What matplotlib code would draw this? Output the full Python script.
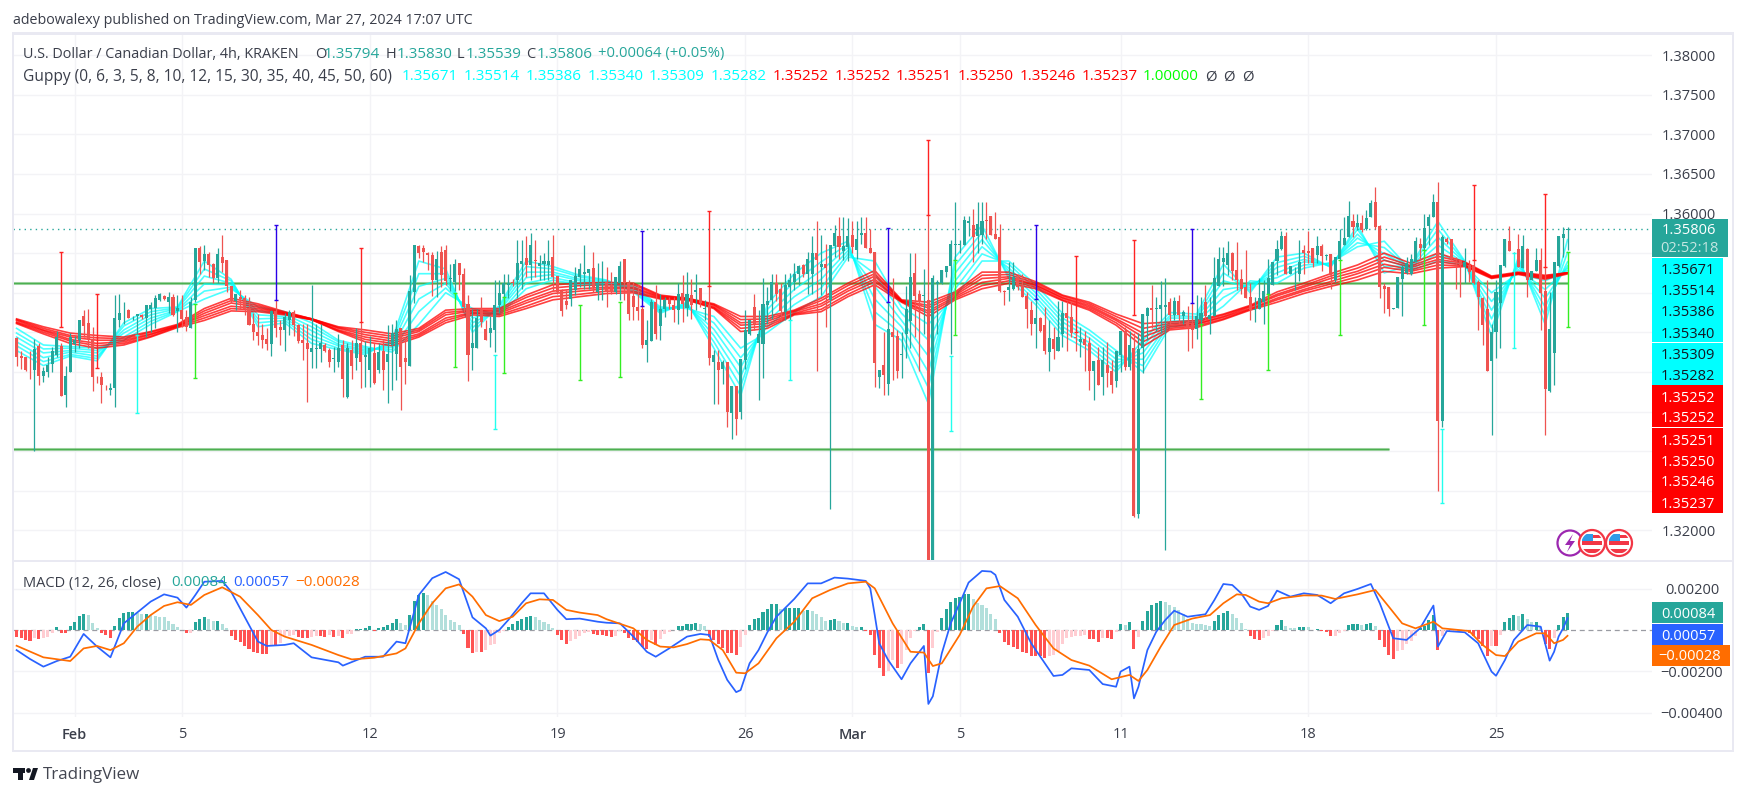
import numpy as np
import matplotlib
matplotlib.use("Agg")
import matplotlib.pyplot as plt
from matplotlib.patches import Rectangle, Circle, Polygon

W, H = 1747, 796
plt.rcParams['font.family'] = ['Open Sans', 'DejaVu Sans']

# Prices are stored in pips above 1.34000
opens = [43,20,19,3,2,33,-5,0,10,21, 33,-29,0,35,40,70,62,42,-6,-7, -16,-23,-20,65,74,78,70,70,72,68, 80,81,91,96,88,94,77,78,69,56,
 91,157,140,149,136,118,145,141,109,89, 94,93,81,60,50,46,41,35,77,57, 53,66,76,59,40,37,25,29,29,34, 28,16,12,34,-32,28,17,37,19,2,
 24,2,27,12,34,22,55,18,8,101, 159,157,150,147,116,151,154,117,114,138, 123,86,30,30,78,54,49,53,84,99, 110,113,116,136,144,135,141,134,136,135,
 145,121,102,89,92,103,120,123,125,131, 101,110,114,110,101,112,142,112,96,82, 79,34,39,88,58,80,91,84,78,100, 81,97,101,106,80,84,13,13,4,13,
 -52,-18,-50,15,48,82,37,35,84,91, 112,105,76,107,113,123,135,123,124,150, 132,136,91,159,171,153,158,173,154,173, 175,157,151,-6,9,-15,51,45,21,48,
 64,125,98,96,91,-240,111,112,126,134, 160,160,160,188,186,171,173,192,197,174, 170,102,103,105,120,108,96,78,61,68, 59,25,41,27,48,74,69,44,38,41,
 36,1,15,-6,9,1,-11,21,52,6, 30,-180,30,70,81,80,79,82,88,72, 89,70,63,62,54,65,88,67,70,109, 139,135,150,129,117,107,94,78,80,88,
 99,110,140,155,171,124,132,124,154,153, 156,147,159,146,149,116,143,160,170,191, 183,188,180,196,214,184,108,107,80,81, 117,125,123,139,162,156,184,196,215,-62,
 168,168,143,141,132,135,135,114,93,80, 14,50,87,134,165,151,155,131,155,116, 128,141,102,-24,24,134,169,179.4]
highs = [44,26,19,27,42,37,6,19,32,52, 36,8,49,45,66,78,80,57,-5,0, -16,-14,97,99,88,79,71,73,73,84, 88,97,100,97,101,99,97,97,78,95,
 156,159,160,151,138,156,173,141,109,98, 103,97,95,74,73,60,55,78,91,65, 74,78,78,61,60,61,110,61,61,36, 30,32,48,40,36,40,56,63,39,45,
 36,36,40,59,60,65,55,44,122,160, 160,160,152,152,153,159,160,136,142,138, 131,97,80,80,94,65,70,116,116,123, 124,117,166,166,171,175,167,148,150,167,
 173,121,105,103,116,133,137,160,130,152, 137,140,133,126,120,140,143,116,114,110, 84,65,92,110,99,95,95,95,112,122, 126,117,123,106,91,109,28,28,15,13,
 -18,-18,16,78,66,98,78,119,107,124, 124,112,123,125,137,135,136,152,171,190, 173,161,160,185,195,195,194,190,190,195, 195,180,151,3,51,88,118,53,51,109,
 150,150,103,130,198,122,116,129,134,166, 214,166,197,197,206,215,214,214,197,202, 187,103,139,139,124,124,101,90,93,69, 82,65,57,90,90,90,90,51,57,52,
 44,14,32,32,38,15,27,52,57,52, 49,49,73,82,110,95,115,119,93,95, 97,78,83,87,97,94,110,95,145,158, 158,165,152,164,130,154,112,95,118,116,
 143,139,166,178,177,134,133,167,160,178, 156,171,161,149,149,145,180,196,216,200, 200,198,204,217,233,185,112,107,81,120, 135,145,149,170,169,200,200,225,240,173,
 170,168,145,141,157,141,141,116,95,116, 60,116,135,168,184,152,174,173,156,128, 156,157,132,101,139,172,183,183]
lows = [8,4,1,-9,-100,-17,-13,-7,0,19, -31,-44,0,25,30,44,30,-24,-14,-39, -23,-29,-44,57,61,68,65,46,67,44, 51,55,90,91,74,70,51,57,52,56,
 88,124,129,120,112,112,126,101,87,78, 80,72,59,40,34,30,28,20,44,34, 26,46,45,36,15,-38,5,5,12,25, 6,0,6,-32,-33,-9,2,-20,-19,-19,
 -15,-2,-23,-39,-23,-10,-48,-15,8,87, 144,139,129,96,95,107,110,102,102,103, 76,-11,2,30,57,40,32,25,74,80, 93,108,93,105,120,116,120,116,116,116,
 102,99,71,79,83,97,107,105,105,101, 91,91,82,99,99,91,91,65,65,65, 30,12,39,41,40,69,80,63,61,63, 70,67,78,82,65,9,-40,-40,-15,-70,
 -85,-80,-60,4,47,53,-36,-8,61,67, 89,65,65,65,103,110,120,99,98,1, 97,57,-173,145,143,141,140,150,142,162, 156,150,-19,-20,-29,-29,-10,-8,-8,17,
 30,44,1,48,-250,-250,48,111,120,22, 141,150,160,172,139,150,162,168,173,168, 101,84,90,103,103,94,55,46,30,51, 22,1,16,27,32,27,44,27,19,1,
 -23,-35,-17,-29,-19,-27,-19,0,2,2, -183,-185,-2,40,55,52,49,-225,61,65, 61,61,27,30,42,61,67,48,70,109, 109,122,116,103,99,93,65,63,80,61,
 99,110,122,154,124,124,103,115,124,137, 133,137,127,141,105,114,141,160,170,170, 179,177,179,196,181,93,74,71,80,81, 71,123,122,139,141,154,160,196,-150,-70,
 162,141,105,95,112,114,111,53,34,1, -80,17,30,132,153,150,132,131,94,116, 128,53,-80,-25,-16,133,145,153.9]
closes = [19,17,2,2,29,-5,1,9,26,44, -31,-5,44,40,66,58,42,-6,-7,-17, -17,-20,68,75,75,68,71,73,69,84, 84,93,98,92,94,72,81,67,57,88,
 156,139,149,135,119,149,137,108,89,98, 92,79,59,50,45,40,35,77,56,53, 69,76,59,39,37,29,30,30,37,27, 12,18,30,-9,30,8,37,13,21,30,
 -14,25,3,23,49,54,6,13,102,160, 150,152,148,116,143,122,115,119,136,122, 82,21,36,68,63,40,55,85,100,112, 112,112,137,140,135,160,140,137,140,140,
 120,101,77,84,116,121,130,126,130,107, 112,111,101,101,120,134,112,73,82,77, 34,40,88,48,80,91,86,78,98,86, 98,84,103,87,81,17,21,3,13,-50,
 -18,-60,16,53,65,60,48,86,89,113, 99,77,110,116,124,134,123,142,150,141, 136,131,160,175,158,159,171,158,168,175, 156,150,11,2,-4,54,44,1,22,80,
 120,96,88,97,-240,119,113,129,134,161, 161,161,192,190,170,187,190,190,173,168, 102,101,107,120,107,95,79,60,68,52, 27,43,29,44,74,68,49,43,41,34,
 1,14,-17,15,-2,-16,27,52,6,34, -182,29,73,81,78,81,85,85,72,89, 72,76,55,53,70,75,70,72,119,142, 144,150,128,116,105,93,78,79,93,102,
 118,139,155,171,124,134,133,139,150,150, 137,159,146,147,122,145,165,169,197,183, 188,179,194,213,183,107,105,79,81,120, 133,137,142,165,157,182,196,214,-62,170,
 164,143,141,135,139,126,112,95,59,1, 50,101,135,168,153,152,132,159,116,128, 141,100,-22,54,139,172,174,180.6]

# Anomalous thin high-low bars seen on the chart: candle number, top, bottom (pips above 1.34000)
red_spike_i = [10,18,77,155,204,237,250,326,342]
red_spike_top = [151,99,157,203,293,146,166,236,225]
red_spike_bot = [57,5,63,109,198,51,72,141,132]
blue_spike_i = [58,140,195,228,263]
blue_spike_top = [185,178,182,186,181]
blue_spike_bot = [91,83,88,92,87]
lime_spike_i = [40,98,109,126,135,210,265,280,296,315,347]
lime_spike_top = [86,100,94,85,88,141,61,98,141,154,152]
lime_spike_bot = [-8,6,-1,-10,-6,47,-34,3,46,59,57]
cyan_spike_i = [27,107,173,209,319,335]
cyan_spike_top = [46,21,65,20,-72,150]
cyan_spike_bot = [-52,-72,-10,-75,-165,30]

# Guppy ribbon values, read every six candles
guppy_i = list(range(0, 348, 6)) + [347]
cyan_1 = [27,8,20,14,62,80,82,140,117,57,62,36,28,22,40,140,130,50,84,140,133,122,116,101,74,88,30,-30,86,124,150,165,60,40,-40,145,185,118,85,46,27,0,40,75,73,136,100,145,150,132,185,125,135,190,140,45,145,60,167]
cyan_2 = [33,13,22,17,58,76,81,130,115,62,65,41,30,24,37,124,124,56,82,133,130,120,115,103,76,86,38,-18,79,114,139,161,76,48,-20,135,176,122,90,52,32,5,32,71,70,125,103,138,146,133,180,133,134,180,139,56,141,71,151]
cyan_3 = [38,18,25,20,53,72,80,121,112,67,68,46,33,26,34,108,118,62,79,126,126,117,114,105,77,85,46,-6,72,104,128,157,92,57,0,125,167,127,95,57,37,11,24,68,68,115,106,132,142,134,174,141,132,170,138,67,137,82,139]
cyan_4 = [44,24,27,24,49,68,78,111,110,72,70,52,35,28,31,92,112,68,77,119,123,115,112,106,79,83,54,6,64,95,117,153,108,65,20,115,158,131,100,63,43,16,16,64,65,104,109,125,139,136,169,149,131,160,137,78,133,93,134]
cyan_5 = [49,29,30,27,44,64,77,102,107,77,73,57,38,30,28,76,106,74,74,112,119,112,111,108,80,82,62,18,57,85,106,149,124,74,40,105,149,136,105,68,48,22,8,61,63,94,112,119,135,137,163,157,129,150,136,89,129,104,131]
cyan_6 = [55,34,32,30,40,60,76,92,105,82,76,62,40,32,25,60,100,80,72,105,116,110,110,110,82,80,70,30,50,75,95,145,140,82,60,95,140,140,110,74,53,27,0,57,60,83,115,112,131,138,158,165,128,140,135,100,125,115,128]
red_1 = [67,57,49,46,44,51,60,80,93,86,76,67,57,53,48,55,78,80,80,97,110,112,113,112,97,93,86,70,70,78,93,112,128,91,88,101,126,126,114,97,88,73,61,63,65,73,84,101,112,124,135,150,137,150,139,121,126,122,125.2]
red_2 = [66,55,46,43,42,50,59,77,90,84,75,67,56,50,45,53,75,78,78,94,106,109,110,110,96,93,85,66,67,77,90,109,124,90,84,99,122,123,112,96,86,70,55,61,63,72,83,98,109,121,131,145,134,146,138,120,125,121,125.2]
red_3 = [65,53,44,40,40,48,58,74,87,82,74,67,55,47,42,51,72,77,76,90,102,105,107,107,95,92,84,62,64,76,86,105,121,90,81,97,118,120,110,94,84,67,49,59,61,70,82,96,107,118,127,141,132,142,137,120,125,120,125.1]
red_4 = [63,52,41,36,38,47,58,71,83,80,74,66,53,44,39,48,68,75,74,87,99,102,105,105,94,92,82,59,61,74,83,102,117,89,77,95,113,118,109,93,82,65,44,57,60,69,80,93,104,114,124,136,129,139,135,119,124,119,125]
red_5 = [62,50,39,33,36,45,57,68,80,78,73,66,52,41,36,46,65,74,72,83,95,98,102,102,93,91,81,55,58,73,79,98,114,89,74,93,109,115,107,91,80,62,38,55,58,67,79,91,102,111,120,132,127,135,134,119,124,118,124.6]
red_6 = [61,48,36,30,34,44,56,65,77,76,72,66,51,38,33,44,62,72,70,80,91,95,99,100,92,91,80,51,55,72,76,95,110,88,70,91,105,112,105,90,78,59,32,53,56,66,78,88,99,108,116,127,124,131,133,118,123,117,123.7]

# MACD values in units of 0.00001
hist = [-32,-40,-48,-53,-40,-43,-40,-32,-13,16, -16,-16,19,40,69,77,72,35,10,-16, -24,-37,19,56,84,87,87,80,77,77, 72,69,64,61,45,29,13,0,-16,-13,
 39,55,61,53,43,43,29,10,-27,-48, -58,-77,-93,-105,-109,-114,-114,-76,-76,-64, -32,-29,-24,-32,-40,-40,-35,-29,-29,-35, -24,-35,-29,-37,-21,-19,3,6,10,19,
 -3,10,13,24,35,55,32,24,72,140, 169,177,169,140,119,100,72,48,39,24, -19,-85,-109,-105,-105,-97,-72,-68,-13,-5, 16,29,45,53,61,68,64,48,40,27,
 8,-24,-48,-68,-55,-45,-29,-16,-8,-21, -24,-24,-27,-35,-29,-5,-13,-37,-48,-56, -80,-92,-48,-72,-43,-19,-8,2,19,19, 29,29,34,29,19,-35,-48,-68,-89,-113,
 -113,-121,-80,-23,24,53,60,87,101,126, 126,101,105,106,106,108,93,97,92,77, 61,45,48,53,43,32,34,19,13,14, -3,-24,-121,-182,-222,-198,-145,-182,-164,-97,
 -39,-3,14,29,-206,-89,-8,58,101,135, 155,158,174,174,151,132,121,108,76,53, -13,-56,-74,-80,-92,-106,-113,-124,-124,-126, -135,-126,-121,-101,-68,-39,-32,-29,-27,-24,
 -43,-43,-56,-40,-40,-43,-8,29,23,39, -92,-34,42,90,119,130,140,134,119,113, 97,77,52,35,31,29,24,21,42,72, 84,90,76,60,32,3,-27,-45,-47,-37,
 -29,-5,23,47,19,11,8,14,14,13, 0,5,-5,-10,-29,-27,-14,-3,23,29, 29,23,27,34,19,-48,-82,-121,-140,-100, -95,-68,-53,-29,8,19,47,71,-95,-29,
 -8,-5,-3,-3,-5,-13,-27,-43,-76,-124, -77,-77,-24,37,60,72,68,76,53,39, 39,16,-69,-92,-39,23,61,84]
macd_i = [0,3,6,9,12,15,18,21,24,30,33,36,38,40,42,46,48,54,56,60,62,66,72,73,78,82,85,87,90,93,96,99,102,105,106,108,110,113,115,118,121,123,126,130,
 132,135,138,141,143,146,150,153,155,157,159,161,162,164,166,168,170,174,177,180,183,186,190,191,192,193,195,198,200,203,204,205,207,209,211,213,216,218,219,221,224,227,232,234,236,240,
 243,246,247,249,250,251,253,255,257,259,262,266,268,270,272,274,276,278,280,282,285,288,291,294,297,300,303,305,308,311,314,317,318,320,324,327,330,331,333,335,338,341,343,344,345,346,347]
macd_line = [-97,-140,-177,-150,-129,-19,-80,-132,32,137,172,156,108,169,233,237,185,-56,-77,-72,-64,-132,-156,-172,-129,-129,-56,-64,169,250,280,245,61,8,-27,0,48,129,177,177,97,52,55,40,
 35,32,-32,-105,-129,-89,-32,-19,-24,-145,-241,-300,-290,-161,-97,-10,64,150,225,225,253,248,237,201,72,-64,-145,-238,-161,-77,-357,-320,-113,32,129,229,285,282,266,145,64,-64,-222,-217,-185,-193,
 -261,-274,-201,-177,-330,-274,-97,-8,48,93,64,76,145,222,217,177,113,97,116,190,161,177,169,129,177,198,222,129,-40,-48,8,118,-80,-5,-11,-64,-201,-221,-145,-48,24,16,-148,-105,-32,8,57]
signal_i = [0,6,12,15,18,21,24,27,30,33,36,39,42,46,50,54,57,60,66,72,75,80,85,87,90,93,96,99,102,105,108,111,114,117,120,123,126,130,
 132,138,141,144,147,150,153,155,158,161,163,166,170,174,178,182,186,190,192,196,200,203,205,207,211,214,217,220,224,228,232,236,240,
 245,249,251,253,256,259,263,267,270,273,275,278,280,283,288,292,295,300,304,307,310,313,317,319,325,328,331,333,336,340,342,344,346,347]
signal_line = [-76,-132,-150,-89,-77,-97,-64,16,72,116,134,121,169,206,161,72,0,-32,-72,-121,-142,-134,-113,-89,32,129,201,220,161,72,43,64,129,148,145,97,84,72,
 52,8,-48,-80,-84,-68,-45,-48,-97,-206,-209,-161,-40,40,153,193,225,233,201,32,-105,-109,-174,-161,-24,113,201,212,153,24,-89,-145,-172,
 -238,-217,-246,-193,-80,24,55,72,129,172,169,137,129,153,167,166,150,172,193,113,32,8,40,8,-5,-72,-121,-126,-56,-16,-16,-64,-48,-28]

# Horizontal levels drawn on the chart and axis text
level_high = 1.3512
level_low = 1.33025
level_low_end = 307
last_price = 1.35806
price_ticks = [1.38, 1.375, 1.37, 1.365, 1.36, 1.355, 1.35, 1.345, 1.34, 1.335, 1.33, 1.325, 1.32]
price_tick_labels = {1.38: '1.38000', 1.375: '1.37500', 1.37: '1.37000', 1.365: '1.36500', 1.36: '1.36000', 1.32: '1.32000'}
macd_ticks = [200, -200, -400]
macd_tick_labels = ['0.00200', '\u22120.00200', '\u22120.00400']
date_i = [13, 37, 79, 121, 163, 187, 211, 247, 289, 331]
date_labels = ['Feb', '5', '12', '19', '26', 'Mar', '5', '11', '18', '25']
cyan_tags = ['1.35671', '1.35514', '1.35386', '1.35340', '1.35309', '1.35282']
red_tags = ['1.35252', '1.35252', '1.35251', '1.35250', '1.35246', '1.35237']

UP, DOWN = '#26a69a', '#ef5350'
GRID = '#f3f3f6'
BORDER = '#e9e9f2'
TEXT = '#3a3e4a'
def P(v):
    return 1.34 + np.asarray(v, dtype=float) * 1e-4

fig = plt.figure(figsize=(W / 100, H / 100), dpi=100, facecolor='white')
def axes_px(x0, y0, x1, y1):
    return fig.add_axes([x0 / W, 1 - y1 / H, (x1 - x0) / W, (y1 - y0) / H])
ax = axes_px(13, 35, 1652, 560)
am = axes_px(13, 561, 1652, 717)
XL = (-0.8, 365.9)
ax.set_xlim(*XL); am.set_xlim(*XL)
ax.set_ylim(1.31625, 1.38254)
am.set_ylim(-420, 333)
for a in (ax, am):
    a.set_xticks([]); a.set_yticks([])
    for s in a.spines.values():
        s.set_visible(False)
    a.patch.set_alpha(0)
    for i in date_i:
        a.axvline(i, color=GRID, lw=1, zorder=0)
for t in price_ticks:
    ax.axhline(t, color=GRID, lw=1, zorder=0)
for t in macd_ticks:
    am.axhline(t, color=GRID, lw=1, zorder=0)

idx = np.arange(len(opens))
# Guppy ribbons sit beneath the candles
for s in (cyan_1, cyan_2, cyan_3, cyan_4, cyan_5, cyan_6):
    ax.plot(guppy_i, P(s), color='#00ffff', lw=1.2, alpha=0.7, zorder=2)
for s in (red_1, red_2, red_3, red_4, red_5, red_6):
    ax.plot(guppy_i, P(s), color='#ff0000', lw=1.2, alpha=0.75, zorder=2.5)

# Levels and last price
ax.hlines(level_high, XL[0], 347, color='#4caf50', lw=2.2, alpha=0.5, zorder=1.5)
ax.hlines(level_high, XL[0], 347, color='#4caf50', lw=0.9, zorder=1.6)
ax.hlines(level_low, XL[0], level_low_end, color='#4caf50', lw=2.2, alpha=0.5, zorder=1.5)
ax.hlines(level_low, XL[0], level_low_end, color='#4caf50', lw=0.9, zorder=1.6)
ax.axhline(last_price, color=UP, lw=1, ls=(0, (1, 3)), zorder=1.7)

# Candles
o, h, l, c = P(opens), P(highs), P(lows), P(closes)
cols = np.where(c >= o, UP, DOWN)
ax.vlines(idx, l, h, colors=cols, lw=0.9, zorder=3)
ax.bar(idx, np.maximum(np.abs(c - o), 0.00004), bottom=np.minimum(o, c), width=0.68, color=cols, zorder=3.2, linewidth=0)

# Thin spikes with small end caps
for ii, tt, bb, col in ((red_spike_i, red_spike_top, red_spike_bot, '#ff2222'),
                        (blue_spike_i, blue_spike_top, blue_spike_bot, '#2a00e8'),
                        (lime_spike_i, lime_spike_top, lime_spike_bot, '#33ee22'),
                        (cyan_spike_i, cyan_spike_top, cyan_spike_bot, '#22ffee')):
    ax.vlines(ii, P(bb), P(tt), colors=col, lw=1.0, zorder=3.5)
    ax.plot(ii + ii, list(P(tt)) + list(P(bb)), ls='', marker='_', ms=3, mew=1, color=col, zorder=3.5)

# MACD
am.axhline(0, color='#9a9ca3', lw=0.9, ls=(0, (4, 3)), zorder=1)
hv = np.array(hist, dtype=float)
prev = np.r_[hv[0], hv[:-1]]
hcols = []
for a_, b_ in zip(hv, prev):
    if a_ >= 0:
        hcols.append('#26a69a' if a_ >= b_ else '#b2dfdb')
    else:
        hcols.append('#ff5252' if a_ <= b_ else '#ffcdd2')
am.bar(np.arange(len(hv)), hv, width=0.68, color=hcols, linewidth=0, zorder=2)
am.plot(macd_i, macd_line, color='#2962ff', lw=1.25, zorder=3)
am.plot(signal_i, signal_line, color='#ff6d00', lw=1.25, zorder=3.1)

# ---------- frame & text in pixel coordinates ----------
def frect(x0, y0, x1, y1, color, z=5, **kw):
    fig.add_artist(Rectangle((x0 / W, 1 - y1 / H), (x1 - x0) / W, (y1 - y0) / H, transform=fig.transFigure,
                             facecolor=color, edgecolor='none', zorder=z, **kw))
def ftext(x, y, s, color=TEXT, size=13.5, ha='left', z=7, **kw):
    return fig.text(x / W, 1 - (y + 2) / H, s, color=color, fontsize=size * 0.72, ha=ha, va='center', zorder=z, **kw)

frect(12, 32, 1734, 34.5, BORDER)
frect(12, 32, 14, 752, BORDER)
frect(1732, 32, 1734, 752, BORDER)
frect(12, 750, 1734, 752, BORDER)
frect(12, 559.5, 1734, 561.5, BORDER)

ftext(13, 19, 'adebowalexy published on TradingView.com, Mar 27, 2024 17:07 UTC', size=14.25)

TEAL = '#26a69a'
# top legend, first row
ftext(23, 52, 'U.S. Dollar / Canadian Dollar, 4h, KRAKEN', size=14.4)
for x_, s in ((315, 'O'), (386, 'H'), (457, 'L'), (526, 'C')):
    ftext(x_, 52, s, size=14.6)
for x_, s in ((324, '1.35794'), (397, '1.35830'), (466, '1.35539'), (537, '1.35806')):
    ftext(x_, 52, s, TEAL, size=15.2)
ftext(598, 52, '+0.00064 (+0.05%)', TEAL, size=14.8)
# top legend, second row
ftext(23, 75, 'Guppy (0, 6, 3, 5, 8, 10, 12, 15, 30, 35, 40, 45, 50, 60)', size=15.5)
for k, (s, col) in enumerate([(s, '#00ffff') for s in cyan_tags] + [(s, '#ff0000') for s in red_tags] + [('1.00000', '#00ff00')]):
    ftext(402 + 61.75 * k, 75, s, col, size=15.2)
for x_ in (1205, 1223, 1242):
    ftext(x_, 75, '\u00d8', TEXT, size=15)
# MACD legend
ftext(23, 581, 'MACD (12, 26, close)', size=14.6)
ftext(171, 581, '0.00084', TEAL, size=15.2)
ftext(233, 581, '0.00057', '#2962ff', size=15.2)
ftext(295, 581, '\u22120.00028', '#ff6d00', size=15.2)

# price axis labels
price_to_y = lambda p: 213.5 + (1.36 - p) * 7920
for p_, s in price_tick_labels.items():
    ftext(1689, price_to_y(p_), s, size=14.6, ha='center', z=6)
macd_to_y = lambda v: 630 - v * 0.207
for v_, s in zip(macd_ticks, macd_tick_labels):
    ftext(1692, macd_to_y(v_), s, size=14.6, ha='center', z=6)

frect(1652, 219, 1728, 257, TEAL, z=6.5)
ftext(1689, 229, '1.35806', 'white', size=14.6, ha='center')
ftext(1689, 247, '02:52:18', '#c5e6e2', size=14.6, ha='center')
tag_y = [269, 290, 311, 332, 353, 375]
frect(1652, 258, 1723, 342, '#00ffff', z=6.5)
frect(1652, 343, 1723, 385, '#00ffff', z=6.5)
for y_, s in zip(tag_y, cyan_tags):
    ftext(1688, y_, s, '#131722', size=14.6, ha='center')
rtag_y = [396, 417, 439, 460, 481, 502]
frect(1652, 385, 1723, 427, '#ff0000', z=6.5)
frect(1652, 428, 1723, 513, '#ff0000', z=6.5)
for y_, s in zip(rtag_y, red_tags):
    ftext(1688, y_, s, 'white', size=14.6, ha='center')
frect(1652, 602, 1723, 623, '#26a69a', z=6.5)
ftext(1688, 612, '0.00084', 'white', size=14.6, ha='center')
frect(1652, 624, 1723, 645, '#2962ff', z=6.5)
ftext(1688, 634, '0.00057', 'white', size=14.6, ha='center')
frect(1652, 645, 1730, 666, '#ff6d00', z=6.8)
ftext(1690, 655, '\u22120.00028', 'white', size=14.6, ha='center')

# date axis
for i_, s in zip(date_i, date_labels):
    xp = 16.6 + 4.47 * i_
    ftext(xp, 733, s, size=14.5, ha='center', fontweight='semibold' if s in ('Feb', 'Mar') else 'normal')

# event icons
def circ(x, y, r, **kw):
    c_ = Circle((x / W * W, (H - y)), r, transform=None, **kw)
    fig.add_artist(c_)
    return c_
circ(1570, 543, 12.5, facecolor='white', edgecolor='#9c27b0', lw=1.6, zorder=6)
fig.add_artist(Polygon([(1573, H - 534), (1565, H - 545), (1570, H - 545), (1567, H - 552), (1575, H - 541), (1570, H - 541)],
                       closed=True, transform=None, facecolor='#9c27b0', edgecolor='none', zorder=6.1))
for cx in (1592, 1619):
    circ(cx, 543, 13, facecolor='white', edgecolor='#f23645', lw=1.6, zorder=6.2)
    clip = Circle((cx, H - 543), 10.5, transform=None)
    for y0, y1, col in ((534, 541, '#2f9be8'), (541, 545, '#f23645'), (549, 553, '#f23645')):
        x0 = cx - 10 if col != '#2f9be8' else cx - 10
        x1 = cx + 10 if col != '#2f9be8' else cx + 1
        r_ = Rectangle((x0, H - y1), x1 - x0, y1 - y0, transform=None, facecolor=col, edgecolor='none', zorder=6.3)
        fig.add_artist(r_)
        r_.set_clip_path(clip)
    r2 = Rectangle((cx + 1, H - 538), 9, 3, transform=None, facecolor='#f23645', edgecolor='none', zorder=6.3)
    fig.add_artist(r2)
    r2.set_clip_path(clip)

# logo
LOGO = '#131722'
frect(13, 768, 25, 773, LOGO, z=7)
frect(18, 773, 23, 780, LOGO, z=7)
fig.add_artist(Circle((28.5, H - 770.5), 2.4, transform=None, facecolor=LOGO, edgecolor='none', zorder=7))
fig.add_artist(Polygon([(29, H - 780), (33, H - 768), (38, H - 768), (34, H - 780)], closed=True, transform=None,
                       facecolor=LOGO, edgecolor='none', zorder=7))
ftext(43, 773, 'TradingView', '#434651', size=17)

fig.savefig('out.png', dpi=100, facecolor='white')
